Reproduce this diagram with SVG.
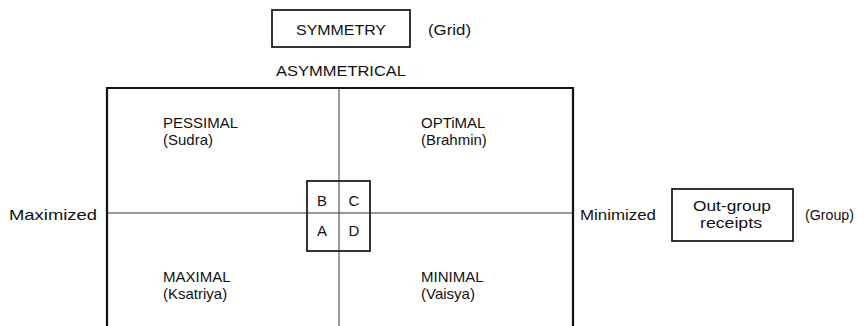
<svg xmlns="http://www.w3.org/2000/svg" width="864" height="326" viewBox="0 0 864 326">
<style>
text{font-family:"Liberation Sans",Arial,sans-serif;font-size:15px;fill:#111}
.m{text-anchor:middle}
.box{fill:#fff;stroke:#111;stroke-width:1.7}
.frame{fill:none;stroke:#111;stroke-width:2.2}
.thin{fill:none;stroke:#333;stroke-width:1}
</style>
<rect width="864" height="326" fill="#fff"/>
<g id="connectors">
<path class="frame" d="M107,326 V88 H573 V326"/>
<line class="thin" x1="339" y1="88" x2="339" y2="326"/>
<line class="thin" x1="107" y1="213" x2="573" y2="213"/>
</g>
<g id="symmetry">
<rect class="box" x="272" y="10" width="138" height="37"/>
<text class="m" x="341" y="34.5" textLength="90" lengthAdjust="spacingAndGlyphs">SYMMETRY</text>
</g>
<g id="grid-label"><text x="428" y="34.5" textLength="43" lengthAdjust="spacingAndGlyphs">(Grid)</text></g>
<g id="asymmetrical"><text class="m" x="341" y="75.5" textLength="130" lengthAdjust="spacingAndGlyphs">ASYMMETRICAL</text></g>
<g id="pessimal"><text x="163" y="127.5">PESSIMAL</text><text x="163" y="144.5">(Sudra)</text></g>
<g id="optimal"><text x="421" y="127.5">OPTiMAL</text><text x="421" y="144.5">(Brahmin)</text></g>
<g id="maximal"><text x="163" y="281.5">MAXIMAL</text><text x="163" y="298.5">(Ksatriya)</text></g>
<g id="minimal"><text x="421" y="281.5">MINIMAL</text><text x="421" y="298.5">(Vaisya)</text></g>
<g id="maximized"><text x="9" y="219.5" textLength="88" lengthAdjust="spacingAndGlyphs">Maximized</text></g>
<g id="minimized"><text x="580" y="219.5" textLength="76" lengthAdjust="spacingAndGlyphs">Minimized</text></g>
<g id="abcd">
<rect class="box" x="307" y="181" width="63" height="70"/>
<line class="thin" x1="339" y1="181" x2="339" y2="251"/>
<line class="thin" x1="307" y1="213" x2="370" y2="213"/>
<text class="m" x="322" y="205.5">B</text>
<text class="m" x="354" y="205.5">C</text>
<text class="m" x="322" y="235.5">A</text>
<text class="m" x="354" y="235.5">D</text>
</g>
<g id="outgroup">
<rect class="box" x="672" y="189" width="121" height="52"/>
<text class="m" x="732" y="211" textLength="78" lengthAdjust="spacingAndGlyphs">Out-group</text>
<text class="m" x="731" y="228" textLength="62" lengthAdjust="spacingAndGlyphs">receipts</text>
</g>
<g id="group-label"><text x="805" y="219.5" textLength="49" lengthAdjust="spacingAndGlyphs">(Group)</text></g>
</svg>
